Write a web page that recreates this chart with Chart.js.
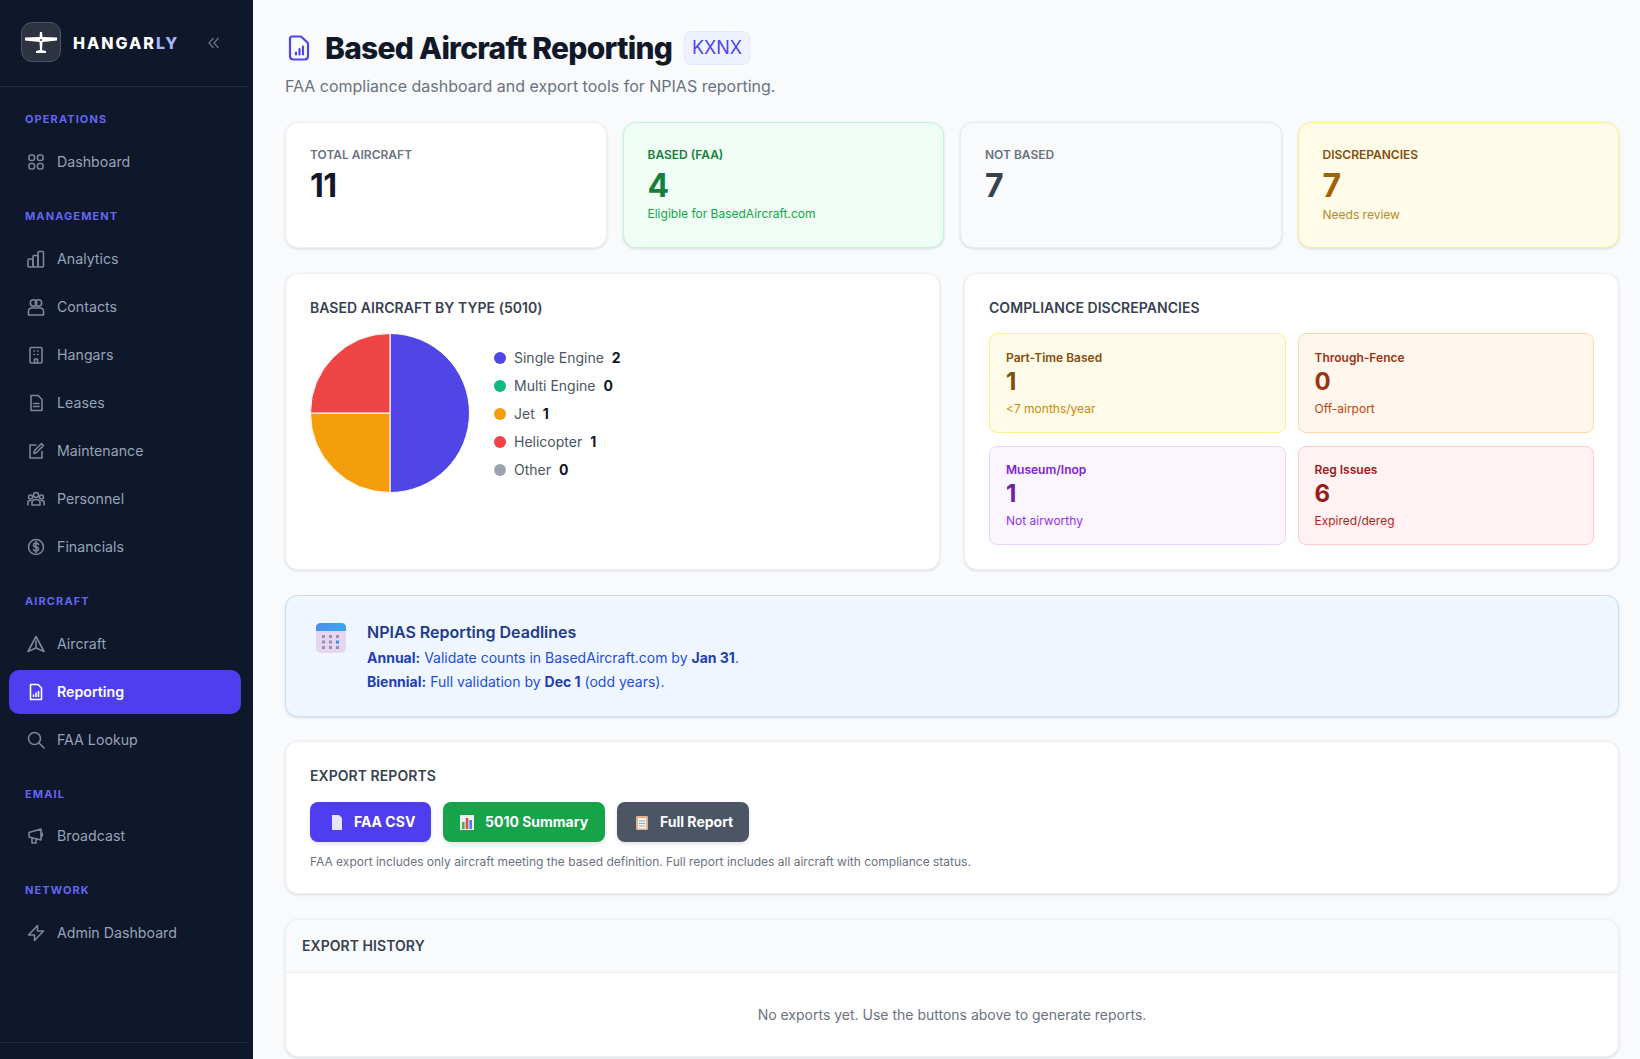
<!DOCTYPE html>
<html lang="en">
<head>
<meta charset="utf-8">
<title>Based Aircraft Reporting</title>
<script src="https://cdn.jsdelivr.net/npm/chart.js@4"></script>
<style>
* { box-sizing: border-box; margin: 0; padding: 0; }
html, body { width: 1640px; height: 1059px; overflow: hidden; }
body { font-family: Inter, sans-serif; background: #f8fafc; color: #111827; position: relative; }
.abs { position: absolute; }

/* sidebar */
.sidebar { position: absolute; left: 0; top: 0; width: 253px; height: 1059px; background: #0f172a; }
.rule { position: absolute; left: 0; width: 248px; height: 1px; background: #1e293b; }
.logo { position: absolute; left: 21px; top: 22px; width: 40px; height: 40px; border-radius: 11px; background: #2d3341; border: 1px solid #4b5563; }
.brand { position: absolute; left: 73px; top: 32px; line-height: 22px; font-size: 16px; font-weight: 800; letter-spacing: 2px; color: #fff; }
.brand span { color: #a5b4fc; }
.collapse { position: absolute; left: 207px; top: 36px; }
.nav-label { position: absolute; left: 25px; font-size: 11px; line-height: 14px; font-weight: 700; letter-spacing: 1.1px; color: #6366f1; }
.nav-item { position: absolute; left: 9px; width: 232px; height: 44px; border-radius: 10px; color: #94a3b8; font-size: 14.2px; line-height: 44px; padding-left: 48px; }
.nav-item svg { position: absolute; left: 17px; top: 12px; width: 20px; height: 20px; fill: none; stroke: #7b8798; stroke-width: 1.6; stroke-linecap: round; stroke-linejoin: round; }
.nav-item.active { background: #4f3df0; color: #fff; font-weight: 600; }
.nav-item.active svg { stroke: #fff; }

/* header */
.title { position: absolute; left: 325px; top: 27px; font-size: 30px; line-height: 42px; font-weight: 800; letter-spacing: -0.75px; color: #111827; }
.badge { position: absolute; left: 684px; top: 31px; width: 66px; height: 34px; border-radius: 7px; background: #eef2ff; border: 1px solid #e4e8fb; color: #4f46e5; font-size: 18px; line-height: 32px; text-align: center; }
.subtitle { position: absolute; left: 285px; top: 75px; font-size: 16px; line-height: 22px; color: #6b7280; }

/* cards */
.card { position: absolute; background: #fff; border: 1px solid #eef0f3; border-radius: 13px; box-shadow: 0 1px 3px rgba(0,0,0,.12); }
.stat { top: 122px; width: 321.5px; height: 126px; padding: 0 24px; }
.stat .lbl { position: absolute; top: 24px; font-size: 12px; line-height: 16px; font-weight: 600; color: #6b7280; }
.stat .num { position: absolute; top: 43px; font-size: 32px; line-height: 40px; font-weight: 700; letter-spacing: -0.5px; color: #111827; }
.stat .sub { position: absolute; top: 83px; font-size: 12px; line-height: 16px; }
.stat.green { background: #f0fdf4; border-color: #bbf7d0; }
.stat.green .lbl, .stat.green .num { color: #15803d; }
.stat.green .sub { color: #16a34a; }
.stat.grey { background: #f9fafb; border-color: #e9ebef; }
.stat.grey .num { color: #374151; }
.stat.yellow { background: #fefce8; border-color: #fef08a; }
.stat.yellow .lbl { color: #854d0e; }
.stat.yellow .num { color: #a16207; }
.stat.yellow .sub { color: #b58a2a; top: 84px; }

.panel-title { position: absolute; font-size: 14px; line-height: 18px; font-weight: 600; letter-spacing: 0.05px; color: #374151; }

.pie-wrap { position: absolute; left: 310px; top: 333px; width: 160px; height: 160px; }
.legend-row { position: absolute; left: 494px; height: 20px; line-height: 20px; font-size: 14px; color: #4b5563; white-space: nowrap; }
.legend-row i { display: inline-block; width: 12px; height: 12px; border-radius: 50%; margin-right: 8px; vertical-align: -1px; }
.legend-row b { margin-left: 8px; font-weight: 700; color: #111827; }

.box { position: absolute; width: 296.5px; height: 100px; border-radius: 8px; border: 1px solid; }
.box .lbl { position: absolute; left: 16px; top: 15px; font-size: 12px; line-height: 18px; font-weight: 600; }
.box .num { position: absolute; left: 16px; top: 32px; font-size: 24px; line-height: 32px; font-weight: 700; }
.box .sub { position: absolute; left: 16px; top: 67px; font-size: 12px; line-height: 16px; }
.box.low { top: 446px; height: 99px; }
.box.low .lbl { top: 14px; }
.box.low .num { top: 31px; }
.box.low .sub { top: 66px; }

.notice { position: absolute; left: 285px; top: 595px; width: 1334px; height: 122px; border-radius: 13px; background: #eff6ff; border: 1px solid #c9dcf5; box-shadow: 0 1px 3px rgba(0,0,0,.12); }
.notice h3 { position: absolute; left: 81px; top: 25px; font-size: 16px; line-height: 22px; font-weight: 600; color: #1e3a8a; }
.notice p { position: absolute; left: 81px; font-size: 14px; line-height: 20px; color: #1d4ed8; white-space: nowrap; }
.notice b { font-weight: 700; color: #1e40af; }

.btn { position: absolute; top: 802px; height: 40px; border-radius: 8px; color: #fff; font-size: 14px; line-height: 40px; font-weight: 700; box-shadow: 0 2px 4px rgba(0,0,0,.12); }
.btn svg { position: absolute; top: 13px; width: 14px; height: 15px; }
.btn span { position: absolute; white-space: nowrap; }
.note { position: absolute; left: 310px; top: 854px; font-size: 12px; line-height: 16px; color: #6b7280; }

.history-head { position: absolute; left: 0; top: 0; width: 100%; height: 53px; background: #f9fafb; border-bottom: 1px solid #eef0f3; border-radius: 13px 13px 0 0; }
.empty { position: absolute; left: 0; width: 100%; top: 85px; text-align: center; font-size: 14px; line-height: 20px; color: #6b7280; }
</style>
</head>
<body>

<div class="sidebar">
  <div class="logo">
    <svg width="38" height="38" viewBox="0 0 38 38" fill="#fff"><path d="M3 14.5 L17.5 14 L18 9 L20 9 L20.5 14 L35 14.5 L35 17.5 L20.5 19 L20 27 L24 28 L24 30 L14 30 L14 28 L18 27 L17.5 19 L3 17.5 Z"/><circle cx="19" cy="17" r="1" fill="#2d3341"/></svg>
  </div>
  <div class="brand">HANGAR<span>LY</span></div>
  <svg class="collapse" width="14" height="14" viewBox="0 0 14 14" fill="none" stroke="#64748b" stroke-width="1.3"><path d="M6.5 2 L2 7 L6.5 12 M11.5 2 L7 7 L11.5 12"/></svg>
  <div class="rule" style="top:86px"></div>

  <div class="nav-label" style="top:112px">OPERATIONS</div>
  <div class="nav-item" style="top:140px"><svg viewBox="0 0 20 20"><rect x="3" y="3" width="5.5" height="5.5" rx="2"/><rect x="11.5" y="3" width="5.5" height="5.5" rx="2"/><rect x="3" y="11.5" width="5.5" height="5.5" rx="2"/><rect x="11.5" y="11.5" width="5.5" height="5.5" rx="2"/></svg>Dashboard</div>

  <div class="nav-label" style="top:209px">MANAGEMENT</div>
  <div class="nav-item" style="top:237px"><svg viewBox="0 0 20 20"><rect x="2" y="10" width="5" height="8" rx="1"/><rect x="7" y="6.5" width="5" height="11.5" rx="1"/><rect x="12" y="2.5" width="5.5" height="15.5" rx="1"/></svg>Analytics</div>
  <div class="nav-item" style="top:285px"><svg viewBox="0 0 20 20"><circle cx="7.5" cy="6" r="3.2"/><circle cx="12.5" cy="6" r="3.2"/><path d="M2.5 18 V14.5 Q2.5 11 6 11 H14 Q17.5 11 17.5 14.5 V18 Z"/></svg>Contacts</div>
  <div class="nav-item" style="top:333px"><svg viewBox="0 0 20 20"><rect x="4" y="2.5" width="12" height="15.5" rx="1"/><path d="M8 6 H8.5 M11.5 6 H12 M8 9.5 H8.5 M11.5 9.5 H12 M8.5 18 V14 H11.5 V18"/></svg>Hangars</div>
  <div class="nav-item" style="top:381px"><svg viewBox="0 0 20 20"><path d="M5 2.5 H12 L16 6.5 V17.5 H5 Z M7.5 10.5 H13 M7.5 13.5 H13"/></svg>Leases</div>
  <div class="nav-item" style="top:429px"><svg viewBox="0 0 20 20"><path d="M10 4 H4 V17 H16 V10.5 M8 12.5 L8.5 9.5 L15.5 2.5 L17.5 4.5 L10.5 11.5 Z"/></svg>Maintenance</div>
  <div class="nav-item" style="top:477px"><svg viewBox="0 0 20 20"><circle cx="10" cy="6" r="2.5"/><circle cx="4.5" cy="8" r="2"/><circle cx="15.5" cy="8" r="2"/><path d="M6 16 V13 Q6 10.5 10 10.5 Q14 10.5 14 13 V16 Z M2 16 V13 Q2 11.5 4.5 11.5 M18 16 V13 Q18 11.5 15.5 11.5"/></svg>Personnel</div>
  <div class="nav-item" style="top:525px"><svg viewBox="0 0 20 20"><circle cx="10" cy="10" r="7.5"/><path d="M12.5 7.5 Q12 6 10 6 Q7.5 6 7.5 8 Q7.5 9.7 10 10 Q12.5 10.3 12.5 12 Q12.5 14 10 14 Q8 14 7.5 12.5 M10 4.5 V15.5"/></svg>Financials</div>

  <div class="nav-label" style="top:594px">AIRCRAFT</div>
  <div class="nav-item" style="top:622px"><svg viewBox="0 0 20 20"><path d="M10 2.5 L18 17.5 L10 14 L2 17.5 Z M10 7 V14"/></svg>Aircraft</div>
  <div class="nav-item active" style="top:670px"><svg viewBox="0 0 20 20"><path d="M4.5 2.5 H12 L15.5 6 V17.5 H4.5 Z M7.5 14.5 V13 M10 14.5 V11 M12.5 14.5 V9.5"/></svg>Reporting</div>
  <div class="nav-item" style="top:718px"><svg viewBox="0 0 20 20"><circle cx="8.5" cy="8.5" r="6"/><path d="M13 13 L18 18"/></svg>FAA Lookup</div>

  <div class="nav-label" style="top:787px">EMAIL</div>
  <div class="nav-item" style="top:814px"><svg viewBox="0 0 20 20"><path d="M3 6.5 L15 3 V14 L3 11 Z M15 6.5 Q18 8.5 15 11 M6 12 V17 H10 V13"/></svg>Broadcast</div>

  <div class="nav-label" style="top:883px">NETWORK</div>
  <div class="nav-item" style="top:911px"><svg viewBox="0 0 20 20"><path d="M11.5 2.5 V8 H17.5 L8.5 17.5 V12 H2.5 Z"/></svg>Admin Dashboard</div>

  <div class="rule" style="top:1042px"></div>
</div>

<svg class="abs" style="left:287px;top:34px" width="24" height="28" viewBox="0 0 24 28" fill="none" stroke="#4f46e5" stroke-width="2.2" stroke-linecap="round" stroke-linejoin="round"><path d="M5 2.5 H14 L21 9 V22 Q21 25.5 17.5 25.5 H6.5 Q3 25.5 3 22 V5 Q3 2.5 5 2.5 Z M9 20.5 V18.5 M12.5 20.5 V15 M16 20.5 V12.5"/></svg>
<div class="title">Based Aircraft Reporting</div>
<div class="badge">KXNX</div>
<div class="subtitle">FAA compliance dashboard and export tools for NPIAS reporting.</div>

<div class="card stat" style="left:285px"><div class="lbl">TOTAL AIRCRAFT</div><div class="num">11</div></div>
<div class="card stat green" style="left:622.5px"><div class="lbl">BASED (FAA)</div><div class="num">4</div><div class="sub">Eligible for BasedAircraft.com</div></div>
<div class="card stat grey" style="left:960px"><div class="lbl">NOT BASED</div><div class="num">7</div></div>
<div class="card stat yellow" style="left:1297.5px"><div class="lbl">DISCREPANCIES</div><div class="num">7</div><div class="sub">Needs review</div></div>

<div class="card" style="left:285px;top:273px;width:655px;height:297px"></div>
<div class="panel-title" style="left:310px;top:299px">BASED AIRCRAFT BY TYPE (5010)</div>
<div class="pie-wrap"><canvas id="typePie"></canvas></div>
<div id="typeLegend"></div>

<div class="card" style="left:964px;top:273px;width:655px;height:297px"></div>
<div class="panel-title" style="left:989px;top:299px">COMPLIANCE DISCREPANCIES</div>
<div class="box" style="left:989px;top:333px;background:#fefce8;border-color:#fef08a"><div class="lbl" style="color:#854d0e">Part-Time Based</div><div class="num" style="color:#854d0e">1</div><div class="sub" style="color:#ca8a04">&lt;7 months/year</div></div>
<div class="box" style="left:1297.5px;top:333px;background:#fff7ed;border-color:#fed7aa"><div class="lbl" style="color:#9a3412">Through-Fence</div><div class="num" style="color:#9a3412">0</div><div class="sub" style="color:#c2410c">Off-airport</div></div>
<div class="box low" style="left:989px;background:#faf5ff;border-color:#e9d5ff"><div class="lbl" style="color:#7e22ce">Museum/Inop</div><div class="num" style="color:#6b21a8">1</div><div class="sub" style="color:#9333ea">Not airworthy</div></div>
<div class="box low" style="left:1297.5px;background:#fef2f2;border-color:#fecaca"><div class="lbl" style="color:#991b1b">Reg Issues</div><div class="num" style="color:#991b1b">6</div><div class="sub" style="color:#b91c1c">Expired/dereg</div></div>

<div class="notice">
  <svg class="abs" style="left:29px;top:26px" width="32" height="32" viewBox="0 0 32 32"><defs><linearGradient id="calTop" x1="0" y1="0" x2="1" y2="0"><stop offset="0" stop-color="#4f8ff0"/><stop offset="1" stop-color="#38a8f0"/></linearGradient></defs><rect x="1" y="1" width="30" height="30" rx="5" fill="#e3d6ee"/><path d="M1 9 V6 Q1 1 6 1 H26 Q31 1 31 6 V9 Z" fill="url(#calTop)"/><g fill="#9d8fb6"><rect x="7" y="13" width="3" height="3"/><rect x="14" y="13" width="3" height="3"/><rect x="21" y="13" width="3" height="3"/><rect x="7" y="18.5" width="3" height="3"/><rect x="14" y="18.5" width="3" height="3"/><rect x="7" y="24" width="3" height="3"/><rect x="14" y="24" width="3" height="3"/><rect x="21" y="24" width="3" height="3"/></g><rect x="21" y="18.5" width="3" height="3" fill="#3b8de8"/></svg>
  <h3>NPIAS Reporting Deadlines</h3>
  <p style="top:52px"><b>Annual:</b> Validate counts in BasedAircraft.com by <b>Jan 31</b>.</p>
  <p style="top:76px"><b>Biennial:</b> Full validation by <b>Dec 1</b> (odd years).</p>
</div>

<div class="card" style="left:285px;top:741px;width:1334px;height:153px"></div>
<div class="panel-title" style="left:310px;top:767px">EXPORT REPORTS</div>
<div class="btn" style="left:310px;width:121px;background:#4f3df0">
  <svg style="left:20px" viewBox="0 0 14 15"><path d="M2 0 H9 L12 3 V15 H2 Z" fill="#e8e4f5"/></svg><span style="left:44px">FAA CSV</span>
</div>
<div class="btn" style="left:443px;width:162px;background:#16a34a">
  <svg style="left:17px" viewBox="0 0 14 15"><rect x="0" y="0" width="14" height="15" fill="#eef2f3"/><rect x="2" y="7" width="2.6" height="7" fill="#4caf50"/><rect x="5.7" y="3" width="2.6" height="11" fill="#e5484d"/><rect x="9.4" y="5" width="2.6" height="9" fill="#3b82f6"/></svg><span style="left:42px">5010 Summary</span>
</div>
<div class="btn" style="left:617px;width:132px;background:#4b5563">
  <svg style="left:18px" viewBox="0 0 14 15"><rect x="1" y="1" width="12" height="14" rx="1" fill="#e0b089"/><rect x="3" y="3" width="8" height="10.5" fill="#f3f4f6"/><path d="M4 6 H10 M4 8.5 H10 M4 11 H10" stroke="#9ca3af"/></svg><span style="left:43px">Full Report</span>
</div>
<div class="note">FAA export includes only aircraft meeting the based definition. Full report includes all aircraft with compliance status.</div>

<div class="card" style="left:285px;top:919px;width:1334px;height:138px">
  <div class="history-head"></div>
  <div class="panel-title" style="left:16px;top:17px">EXPORT HISTORY</div>
  <div class="empty">No exports yet. Use the buttons above to generate reports.</div>
</div>

<script>
const typeLabels = ['Single Engine', 'Multi Engine', 'Jet', 'Helicopter', 'Other'];
const typeCounts = [2, 0, 1, 1, 0];
const typeColors = ['#4f46e5', '#10b981', '#f59e0b', '#ef4444', '#9ca3af'];

document.addEventListener('DOMContentLoaded', function() {
    const ctx = document.getElementById('typePie').getContext('2d');

    new Chart(ctx, {
        type: 'pie',
        data: {
            labels: typeLabels,
            datasets: [{
                data: typeCounts,
                backgroundColor: typeColors,
                borderColor: '#ffffff',
                borderWidth: 1
            }]
        },
        options: {
            responsive: true,
            maintainAspectRatio: false,
            animation: false,
            plugins: {
                legend: { display: false },
                tooltip: { enabled: false }
            }
        }
    });

    // Legend beside the pie
    const legend = document.getElementById('typeLegend');
    typeLabels.forEach((label, i) => {
        const row = document.createElement('div');
        row.className = 'legend-row';
        row.style.top = (347.5 + i * 28) + 'px';
        row.innerHTML = '<i style="background:' + typeColors[i] + '"></i>' + label + '<b>' + typeCounts[i] + '</b>';
        legend.appendChild(row);
    });
});
</script>
</body>
</html>
